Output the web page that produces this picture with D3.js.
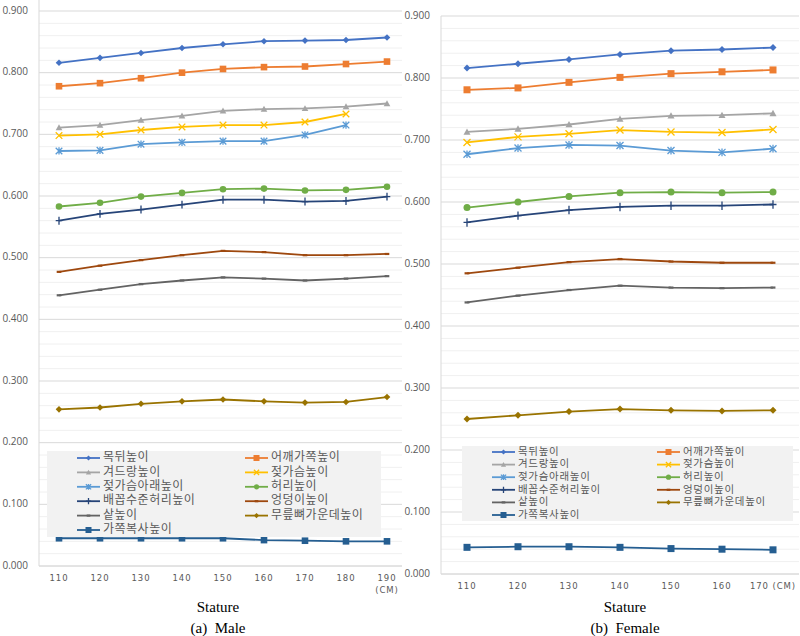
<!DOCTYPE html>
<html>
<head>
<meta charset="utf-8">
<script src="https://cdn.jsdelivr.net/npm/d3@7.9.0/dist/d3.min.js"></script>
<style>
  body { margin: 0; background: #fff; }
  svg { display: block; }
</style>
</head>
<body>
<div id="chart"></div>
<script>
// data
const maleStature = ["110", "120", "130", "140", "150", "160", "170", "180", "190"];
const femaleStature = ["110", "120", "130", "140", "150", "160", "170"];
const unitLabel = "(CM)";
const seriesNames = ["목뒤높이", "어깨가쪽높이", "겨드랑높이", "젖가슴높이", "젖가슴아래높이", "허리높이",
  "배꼽수준허리높이", "엉덩이높이", "샅높이", "무릎뼈가운데높이", "가쪽복사높이"];
const yTicks = [0, 0.1, 0.2, 0.3, 0.4, 0.5, 0.6, 0.7, 0.8, 0.9];

const maleValues = [
  [0.816, 0.824, 0.832, 0.840, 0.846, 0.851, 0.852, 0.853, 0.857],
  [0.778, 0.783, 0.791, 0.800, 0.806, 0.809, 0.810, 0.814, 0.818],
  [0.711, 0.715, 0.723, 0.730, 0.738, 0.741, 0.742, 0.745, 0.750],
  [0.698, 0.700, 0.707, 0.712, 0.715, 0.715, 0.720, 0.733, null],
  [0.673, 0.674, 0.684, 0.687, 0.689, 0.689, 0.699, 0.715, null],
  [0.583, 0.589, 0.599, 0.605, 0.611, 0.612, 0.609, 0.610, 0.615],
  [0.560, 0.571, 0.578, 0.586, 0.594, 0.594, 0.591, 0.592, 0.599],
  [0.477, 0.487, 0.496, 0.504, 0.511, 0.509, 0.504, 0.504, 0.506],
  [0.439, 0.448, 0.457, 0.463, 0.468, 0.466, 0.463, 0.466, 0.470],
  [0.254, 0.257, 0.263, 0.267, 0.270, 0.267, 0.265, 0.266, 0.274],
  [0.045, 0.045, 0.045, 0.045, 0.045, 0.042, 0.041, 0.040, 0.040]
];

const femaleValues = [
  [0.816, 0.823, 0.830, 0.838, 0.844, 0.846, 0.849],
  [0.781, 0.784, 0.793, 0.801, 0.807, 0.810, 0.813],
  [0.713, 0.718, 0.725, 0.734, 0.739, 0.740, 0.743],
  [0.696, 0.705, 0.710, 0.716, 0.713, 0.712, 0.717],
  [0.677, 0.687, 0.692, 0.691, 0.683, 0.680, 0.686],
  [0.591, 0.600, 0.609, 0.615, 0.616, 0.615, 0.616],
  [0.567, 0.578, 0.587, 0.592, 0.594, 0.594, 0.596],
  [0.485, 0.494, 0.503, 0.508, 0.504, 0.502, 0.502],
  [0.438, 0.449, 0.458, 0.465, 0.462, 0.461, 0.462],
  [0.250, 0.256, 0.262, 0.266, 0.264, 0.263, 0.264],
  [0.043, 0.044, 0.044, 0.043, 0.041, 0.040, 0.039]
];

const colors = ["#4472c4", "#ed7d31", "#a5a5a5", "#ffc000", "#5b9bd5", "#70ad47",
  "#264478", "#9e480e", "#636363", "#997300", "#255e91"];
const markers = ["diamond", "square", "triangle", "x", "star", "circle", "plus", "dash", "dash", "diamond", "square"];

const width = 800, height = 636;
const svg = d3.select("#chart").append("svg")
    .attr("width", width)
    .attr("height", height);

function drawMarker(g, type, color, s) {
  if (type === "diamond") {
    g.append("path").attr("d", `M0,${-s}L${s},0L0,${s}L${-s},0Z`).attr("fill", color);
  } else if (type === "square") {
    g.append("rect").attr("x", -s).attr("y", -s).attr("width", 2 * s).attr("height", 2 * s).attr("fill", color);
  } else if (type === "triangle") {
    g.append("path").attr("d", `M0,${-s}L${s},${s * 0.8}L${-s},${s * 0.8}Z`).attr("fill", color);
  } else if (type === "circle") {
    g.append("circle").attr("r", s).attr("fill", color);
  } else {
    let d = "";
    if (type === "x" || type === "star") d += `M${-s},${-s}L${s},${s}M${-s},${s}L${s},${-s}`;
    if (type === "star") d += `M0,${-s * 1.1}L0,${s * 1.1}`;
    if (type === "plus") d += `M${-s},0L${s},0M0,${-s * 1.2}L0,${s * 1.2}`;
    if (type === "dash") d += `M${-s * 0.7},0L${s * 0.7},0`;
    g.append("path").attr("d", d).attr("fill", "none").attr("stroke", color)
      .attr("stroke-width", type === "dash" ? 2.2 : 1.3);
  }
}

function drawPanel(p) {
  const g = svg.append("g");
  const x = d3.scalePoint().domain(p.cats).range([p.xFirst, p.xLast]);
  const y = d3.scaleLinear().domain([0, 0.9]).range([p.yBottom, p.yTop]);

  // minor gridlines
  const minor = d3.range(0, 0.9001, 0.02).filter(v => Math.abs(v * 10 - Math.round(v * 10)) > 0.01);
  g.selectAll(".minor").data(minor).enter().append("line")
    .attr("x1", p.plotLeft).attr("x2", p.plotRight)
    .attr("y1", d => y(d)).attr("y2", d => y(d))
    .attr("stroke", "#f0f0f0").attr("stroke-width", 1);

  // major gridlines
  g.selectAll(".major").data(yTicks).enter().append("line")
    .attr("x1", p.plotLeft).attr("x2", p.plotRight)
    .attr("y1", d => y(d)).attr("y2", d => y(d))
    .attr("stroke", d => d === 0 ? "#c8c8c8" : "#d9d9d9").attr("stroke-width", 1);

  // vertical axis line
  g.append("line")
    .attr("x1", p.plotLeft).attr("x2", p.plotLeft)
    .attr("y1", p.axisTop).attr("y2", p.yBottom)
    .attr("stroke", "#d9d9d9");

  // y tick labels
  g.selectAll(".ylab").data(yTicks).enter().append("text")
    .attr("x", p.labelRight).attr("y", d => y(d))
    .attr("text-anchor", "end").attr("dominant-baseline", "middle")
    .attr("font-family", "'Open Sans', 'Noto Sans', sans-serif").attr("font-size", 10)
    .attr("fill", "#595959")
    .text(d3.format(".3f"));

  // x tick labels (last one carries the unit)
  const last = p.cats[p.cats.length - 1];
  const xl = g.selectAll(".xlab").data(p.cats).enter().append("text")
    .attr("x", d => x(d)).attr("y", p.yBottom + 15)
    .attr("text-anchor", "middle")
    .attr("font-family", "'DejaVu Sans', sans-serif").attr("font-size", 8.5)
    .attr("letter-spacing", 0.9)
    .attr("fill", "#595959");
  xl.each(function(d) {
    const t = d3.select(this);
    if (d !== last) { t.text(d); return; }
    if (p.unitInline) {
      t.attr("xml:space", "preserve").text(d + " " + unitLabel);
    } else {
      t.append("tspan").attr("x", x(d)).text(d);
      t.append("tspan").attr("x", x(d)).attr("dy", 12).text(unitLabel);
    }
  });

  // series
  const line = d3.line()
    .defined(d => d != null)
    .x((d, i) => x(p.cats[i]))
    .y(d => y(d));

  p.values.forEach((vals, si) => {
    g.append("path")
      .attr("d", line(vals))
      .attr("fill", "none")
      .attr("stroke", colors[si])
      .attr("stroke-width", 1.8);
    vals.forEach((v, i) => {
      if (v == null) return;
      const m = g.append("g").attr("transform", `translate(${x(p.cats[i])},${y(v)})`);
      drawMarker(m, markers[si], colors[si], p.markerSize);
    });
  });

  // legend
  const lg = g.append("g");
  lg.append("rect")
    .attr("x", p.legend.x).attr("y", p.legend.y)
    .attr("width", p.legend.w).attr("height", p.legend.h)
    .attr("fill", "#f2f2f2");
  seriesNames.forEach((name, i) => {
    const col = i % 2, row = Math.floor(i / 2);
    const lx = col === 0 ? p.legend.col1 : p.legend.col2;
    const ly = p.legend.row0 + row * p.legend.rowStep;
    const item = lg.append("g").attr("transform", `translate(${lx},${ly})`);
    item.append("line").attr("x1", 0).attr("x2", 23).attr("y1", 0).attr("y2", 0)
      .attr("stroke", colors[i]).attr("stroke-width", 1.8);
    const m = item.append("g").attr("transform", "translate(11.5,0)");
    drawMarker(m, markers[i], colors[i], markers[i] === "square" ? 3 : 2.6);
    item.append("text")
      .attr("x", 26).attr("y", 0)
      .attr("dominant-baseline", "middle")
      .attr("font-family", "'Noto Sans CJK KR', sans-serif").attr("font-size", p.legend.fontSize)
      .attr("letter-spacing", p.legend.spacing)
      .attr("fill", "#595959")
      .text(name);
  });

  // captions
  svg.append("text")
    .attr("x", p.captionX).attr("y", 612)
    .attr("text-anchor", "middle")
    .attr("font-family", "'Liberation Serif', serif").attr("font-size", 15)
    .text("Stature");
  svg.append("text")
    .attr("x", p.captionX).attr("y", 633)
    .attr("text-anchor", "middle")
    .attr("font-family", "'Liberation Serif', serif").attr("font-size", 15)
    .attr("xml:space", "preserve")
    .text(p.caption);
}

drawPanel({
  cats: maleStature, values: maleValues,
  xFirst: 59, xLast: 387, plotLeft: 39, plotRight: 402,
  yTop: 11, yBottom: 566, axisTop: 0, labelRight: 28,
  unitInline: false,
  markerSize: 3.3,
  legend: { x: 47, y: 451, w: 334, h: 86, col1: 77, col2: 245, row0: 458, rowStep: 14.4, fontSize: 12, spacing: 0.5 },
  captionX: 218, caption: "(a)  Male"
});

drawPanel({
  cats: femaleStature, values: femaleValues,
  xFirst: 467, xLast: 773, plotLeft: 441, plotRight: 799,
  yTop: 16, yBottom: 574, axisTop: 16, labelRight: 430,
  unitInline: true,
  markerSize: 3.5,
  legend: { x: 462, y: 446, w: 331, h: 75, col1: 492, col2: 657, row0: 452, rowStep: 12.6, fontSize: 10.5, spacing: 0.7 },
  captionX: 625, caption: "(b)  Female"
});
</script>
</body>
</html>
